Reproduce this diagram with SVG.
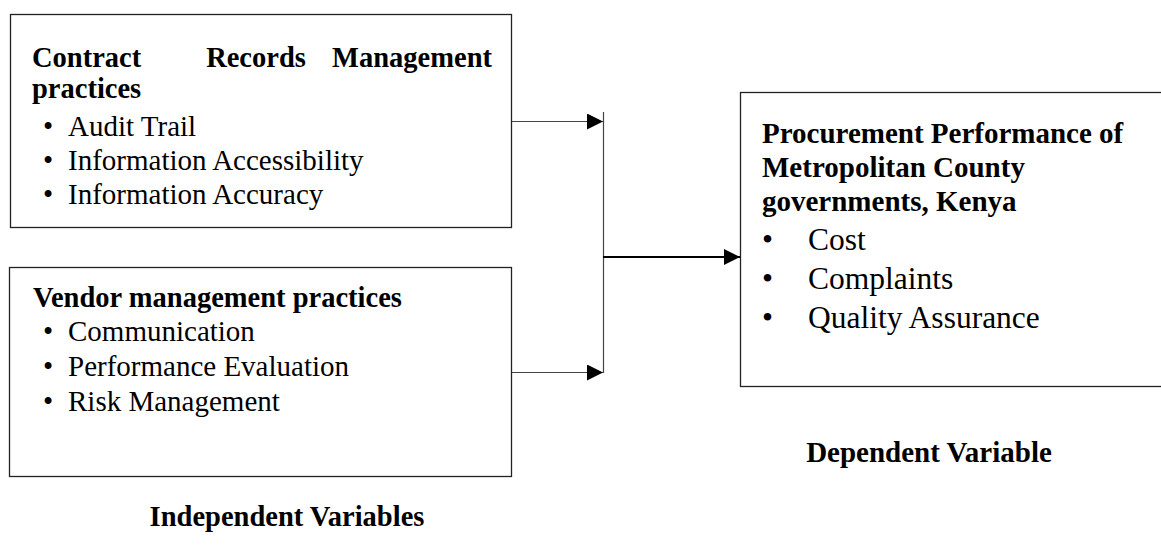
<svg xmlns="http://www.w3.org/2000/svg" width="1161" height="550" viewBox="0 0 1161 550">
<defs>
<marker id="ah" viewBox="0 0 16 16" markerWidth="16" markerHeight="16" refX="16" refY="8" orient="auto" markerUnits="userSpaceOnUse">
<path d="M0,0 L16,8 L0,16 Z" fill="#000"/>
</marker>
<style>
.box{fill:#fff;stroke:#222;stroke-width:1.3}
.b{font-family:"Liberation Serif","Times New Roman",serif;font-weight:bold;font-size:28.5px;fill:#000}
.r{font-family:"Liberation Serif","Times New Roman",serif;font-size:29px;fill:#000}
.b2{font-family:"Liberation Serif","Times New Roman",serif;font-weight:bold;font-size:29px;fill:#000}
.r2{font-family:"Liberation Serif","Times New Roman",serif;font-size:31.5px;fill:#000}
.con{stroke:#444;stroke-width:1.2;fill:none}
</style>
</defs>
<g id="contract-records">
<rect class="box" x="10.5" y="14.5" width="501" height="213"/>
<text class="b" x="32" y="67">Contract</text>
<text class="b" x="256" y="67" text-anchor="middle">Records</text>
<text class="b" x="492" y="67" text-anchor="end">Management</text>
<text class="b" x="32" y="98">practices</text>
<text class="r" x="43" y="136">•</text><text class="r" x="68" y="136">Audit Trail</text>
<text class="r" x="43" y="170">•</text><text class="r" x="68" y="170">Information Accessibility</text>
<text class="r" x="43" y="204">•</text><text class="r" x="68" y="204">Information Accuracy</text>
</g>
<g id="vendor-management">
<rect class="box" x="9.5" y="267.5" width="502" height="209"/>
<text class="b" x="33" y="307">Vendor management practices</text>
<text class="r" x="43" y="341">•</text><text class="r" x="68" y="341">Communication</text>
<text class="r" x="43" y="376">•</text><text class="r" x="68" y="376">Performance Evaluation</text>
<text class="r" x="43" y="411">•</text><text class="r" x="68" y="411">Risk Management</text>
</g>
<g id="procurement-performance">
<rect class="box" x="740.5" y="92.5" width="440" height="294"/>
<text class="b2" x="762" y="143">Procurement Performance of</text>
<text class="b2" x="762" y="177">Metropolitan County</text>
<text class="b2" x="762" y="211">governments, Kenya</text>
<text class="r2" x="762" y="250">•</text><text class="r2" x="808" y="250">Cost</text>
<text class="r2" x="762" y="289">•</text><text class="r2" x="808" y="289">Complaints</text>
<text class="r2" x="762" y="328">•</text><text class="r2" x="808" y="328">Quality Assurance</text>
</g>
<g id="connectors">
<line class="con" x1="512" y1="121.5" x2="603" y2="121.5" marker-end="url(#ah)"/>
<line class="con" x1="512" y1="372.5" x2="603" y2="372.5" marker-end="url(#ah)"/>
<line class="con" x1="603.5" y1="112" x2="603.5" y2="373"/>
<line x1="603" y1="257" x2="740" y2="257" stroke="#000" stroke-width="2" marker-end="url(#ah)"/>
</g>
<g id="labels">
<text class="b2" x="929" y="462" text-anchor="middle">Dependent Variable</text>
<text class="b" x="287" y="526" text-anchor="middle">Independent Variables</text>
</g>
</svg>
